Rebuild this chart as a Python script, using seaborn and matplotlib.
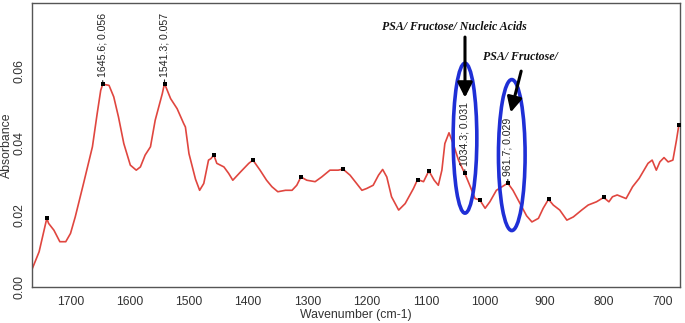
import matplotlib
matplotlib.use("Agg")
import matplotlib.pyplot as plt
from matplotlib.ticker import MultipleLocator, FixedLocator
from matplotlib.patches import Ellipse
import seaborn as sns
import pandas as pd

# ---- data ----
wavenumber = [1765, 1753, 1740, 1737, 1728, 1718, 1708, 1700, 1692, 1678, 1663, 1655,
              1649, 1645.6, 1635, 1627, 1619, 1610, 1599, 1589, 1582, 1574, 1565, 1557,
              1545, 1541.3, 1531, 1520, 1509, 1506, 1500, 1489, 1482, 1475, 1467, 1463,
              1458, 1453, 1441, 1433, 1426, 1413, 1399, 1392, 1380, 1369, 1360, 1350,
              1337, 1326, 1318, 1311, 1301, 1287, 1276, 1262, 1248, 1240, 1228, 1217,
              1208, 1200, 1189, 1180, 1173, 1166, 1158, 1146, 1135, 1121, 1114, 1104,
              1095, 1086, 1079, 1073, 1068, 1061, 1054, 1045, 1037, 1034.3, 1025, 1017,
              1009, 1000, 992, 981, 961.7, 953, 941, 930, 921, 910, 902, 893,
              885, 874, 862, 851, 837, 826, 812, 800, 791, 785, 777, 762,
              751, 740, 725, 718, 711, 705, 698, 691, 683, 677, 673]
absorbance = [0.0049, 0.0098, 0.0191, 0.0177, 0.0158, 0.0126, 0.0126, 0.0149, 0.0195, 0.0288, 0.0390, 0.0482,
              0.0547, 0.0564, 0.0561, 0.0529, 0.0473, 0.0399, 0.0339, 0.0325, 0.0334, 0.0367, 0.0390, 0.0464,
              0.0538, 0.0566, 0.0524, 0.0496, 0.0455, 0.0445, 0.0371, 0.0300, 0.0269, 0.0288, 0.0353, 0.0357,
              0.0367, 0.0344, 0.0334, 0.0316, 0.0297, 0.0320, 0.0344, 0.0353, 0.0325, 0.0297, 0.0279, 0.0265,
              0.0269, 0.0269, 0.0283, 0.0306, 0.0297, 0.0293, 0.0306, 0.0325, 0.0325, 0.0328, 0.0311, 0.0288,
              0.0269, 0.0274, 0.0283, 0.0311, 0.0327, 0.0306, 0.0251, 0.0214, 0.0232, 0.0274, 0.0299, 0.0293,
              0.0323, 0.0297, 0.0283, 0.0325, 0.0399, 0.0429, 0.0399, 0.0353, 0.0325, 0.0316, 0.0279, 0.0246,
              0.0242, 0.0219, 0.0237, 0.0269, 0.0289, 0.0269, 0.0232, 0.0198, 0.0181, 0.0191, 0.0219, 0.0244,
              0.0228, 0.0214, 0.0186, 0.0195, 0.0214, 0.0228, 0.0237, 0.0249, 0.0237, 0.0251, 0.0256, 0.0246,
              0.0279, 0.0302, 0.0344, 0.0353, 0.0325, 0.0348, 0.0360, 0.0348, 0.0353, 0.0408, 0.0450]

marker_wn = [1740, 1645.6, 1541.3, 1458, 1392, 1311, 1240, 1114, 1095, 1034.3, 1009, 961.7, 893, 800, 673]
label_wn = [1645.6, 1541.3, 1034.3, 961.7]
label_text = ["1645.6; 0.056", "1541.3; 0.057", "1034.3; 0.031", "961.7; 0.029"]
xtick_values = [1700, 1600, 1500, 1400, 1300, 1200, 1100, 1000, 900, 800, 700]
ytick_values = [0.00, 0.02, 0.04, 0.06]
note_texts = ["PSA/ Fructose/ Nucleic Acids", "PSA/ Fructose/"]

df = pd.DataFrame({"wn": wavenumber, "abs": absorbance})
lookup = dict(zip(wavenumber, absorbance))
mk = pd.DataFrame({"wn": marker_wn, "abs": [lookup[w] for w in marker_wn]})

sns.set_style("white")
plt.rcParams["font.family"] = ["Liberation Sans", "DejaVu Sans"]

fig = plt.figure(figsize=(6.85, 3.23), dpi=100)
ax = fig.add_axes([32 / 685, 1 - 287 / 323, 648 / 685, 284 / 323])

sns.lineplot(data=df, x="wn", y="abs", sort=False, ax=ax, color="#e0463f", lw=1.2)
sns.scatterplot(data=mk, x="wn", y="abs", ax=ax, color="black", marker="s", s=5,
                linewidth=0, zorder=5)

ax.set_xlim(1765, 671)
ax.set_ylim(0, 0.079)

ax.xaxis.set_major_locator(FixedLocator(xtick_values))
ax.xaxis.set_minor_locator(MultipleLocator(20))
ax.yaxis.set_major_locator(FixedLocator(ytick_values))
ax.yaxis.set_minor_locator(MultipleLocator(0.005))
ax.set_xticklabels([str(v) for v in xtick_values])
ax.set_yticklabels([f"{v:.2f}" for v in ytick_values], rotation=90, va="center")

ax.tick_params(axis="both", which="both", direction="out", length=4.5, width=1.0,
               color="#444444", labelsize=8.8, labelcolor="#333333")
ax.tick_params(axis="x", which="both", pad=2)
ax.tick_params(axis="y", which="both", pad=0)
for sp in ax.spines.values():
    sp.set_visible(True)
    sp.set_color("#555555")
    sp.set_linewidth(1.0)

ax.set_xlabel("Wavenumber (cm-1)", fontsize=8.8, color="#333333", labelpad=1)
ax.set_ylabel("Absorbance", fontsize=8.8, color="#333333")
ax.yaxis.set_label_coords(-0.030, 0.5)

# peak labels
for w, t in zip(label_wn, label_text):
    ax.annotate(t, xy=(w, lookup[w]), xytext=(0, 5), textcoords="offset points",
                rotation=90, ha="center", va="bottom", fontsize=7.6, color="#222222",
                arrowprops=dict(arrowstyle="-", lw=0.8, color="#222222", shrinkA=0, shrinkB=0))

# highlight ellipses
ax.add_patch(Ellipse((1034, 0.0414), 40, 0.0417, fill=False, ec="#1f2fd6", lw=2.6, zorder=6))
ax.add_patch(Ellipse((955, 0.0367), 45, 0.042, fill=False, ec="#1f2fd6", lw=2.6, zorder=6))

# arrows with notes
ax.annotate("", xy=(1034, 0.0519), xytext=(1034, 0.0703),
            arrowprops=dict(arrowstyle="-|>,head_length=0.9,head_width=0.45", lw=2.2, color="black"),
            zorder=7)
ax.annotate("", xy=(958, 0.0478), xytext=(938, 0.0608),
            arrowprops=dict(arrowstyle="-|>,head_length=0.9,head_width=0.45", lw=2.2, color="black"),
            zorder=7)
ax.text(1052, 0.0722, note_texts[0], ha="center", va="center", fontsize=8.6,
        family=["Liberation Serif", "DejaVu Serif"], fontweight="bold", fontstyle="italic", color="#111111")
ax.text(941, 0.0639, note_texts[1], ha="center", va="center", fontsize=8.6,
        family=["Liberation Serif", "DejaVu Serif"], fontweight="bold", fontstyle="italic", color="#111111")

fig.savefig("out.png", dpi=100)
